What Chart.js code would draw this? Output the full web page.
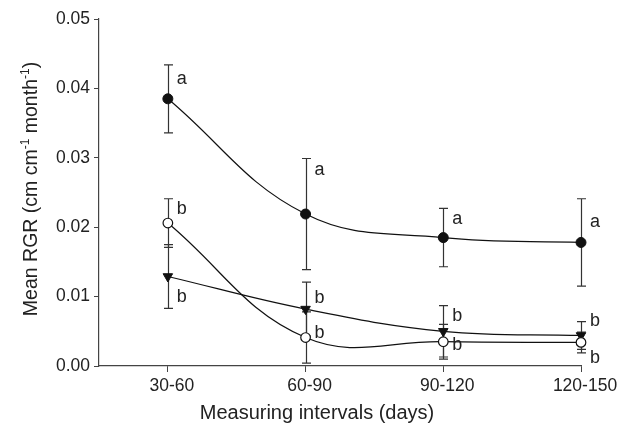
<!DOCTYPE html>
<html>
<head>
<meta charset="utf-8">
<script src="https://cdn.jsdelivr.net/npm/chart.js@4/dist/chart.umd.min.js"></script>
<style>
html,body{margin:0;padding:0;background:#fff;}
#wrap{width:634px;height:429px;position:relative;}
</style>
</head>
<body>
<div id="wrap"><canvas id="c" width="634" height="429"></canvas></div>
<script>
const categories = ['30-60', '60-90', '90-120', '120-150'];
const yTicks = [0, 0.01, 0.02, 0.03, 0.04, 0.05];

const filledMean = [0.0385, 0.0219, 0.0185, 0.0178];
const filledErr  = [0.0049, 0.0080, 0.0042, 0.0063];
const filledLetters = ['a', 'a', 'a', 'a'];
const filledLetterY = [0.0414, 0.0283, 0.0212, 0.0207];

const openMean = [0.0206, 0.0041, 0.0035, 0.0034];
const openErr  = [0.0035, 0.0037, 0.0025, 0.0015];
const openLetters = ['b', 'b', 'b', 'b'];
const openLetterY = [0.0226, 0.0048, 0.0030, 0.0011];

const triMean = [0.0129, 0.0082, 0.0050, 0.0044];
const triErr  = [0.0046, 0.0039, 0.0037, 0.0020];
const triLetters = ['b', 'b', 'b', 'b'];
const triLetterY = [0.0100, 0.0098, 0.0072, 0.0065];

const FONT = '"Liberation Sans", Arial, sans-serif';
const AXIS = '#444';

function pts(arr){ return arr.map((v,i)=>({x:i, y:v})); }

const seriesInfo = [
  {mean: filledMean, err: filledErr, letters: filledLetters, ly: filledLetterY},
  {mean: openMean, err: openErr, letters: openLetters, ly: openLetterY},
  {mean: triMean, err: triErr, letters: triLetters, ly: triLetterY}
];

const errorBars = {
  id: 'errorBars',
  beforeDatasetsDraw(chart){
    const ctx = chart.ctx, xs = chart.scales.x, ys = chart.scales.y;
    ctx.save();
    ctx.strokeStyle = '#333';
    ctx.lineWidth = 1.2;
    seriesInfo.forEach(s=>{
      s.mean.forEach((m,i)=>{
        const x = Math.round(xs.getPixelForValue(i)) + 0.5;
        const t = ys.getPixelForValue(m + s.err[i]);
        const b = ys.getPixelForValue(m - s.err[i]);
        ctx.beginPath();
        ctx.moveTo(x, t); ctx.lineTo(x, b);
        ctx.moveTo(x-4.5, t); ctx.lineTo(x+4.5, t);
        ctx.moveTo(x-4.5, b); ctx.lineTo(x+4.5, b);
        ctx.stroke();
      });
    });
    ctx.restore();
  }
};

const lettersPlugin = {
  id: 'letters',
  afterDatasetsDraw(chart){
    const ctx = chart.ctx, xs = chart.scales.x, ys = chart.scales.y;
    ctx.save();
    ctx.fillStyle = '#222';
    ctx.font = '18px ' + FONT;
    ctx.textAlign = 'left';
    ctx.textBaseline = 'middle';
    seriesInfo.forEach(s=>{
      s.letters.forEach((L,i)=>{
        ctx.fillText(L, xs.getPixelForValue(i) + 9, ys.getPixelForValue(s.ly[i]));
      });
    });
    ctx.restore();
  }
};

const titles = {
  id: 'titles',
  afterDraw(chart){
    const ctx = chart.ctx, ca = chart.chartArea;
    ctx.save();
    ctx.fillStyle = '#222';
    ctx.textBaseline = 'alphabetic';
    // x title
    ctx.font = '20px ' + FONT;
    ctx.textAlign = 'center';
    ctx.fillText('Measuring intervals (days)', 317, 419);
    // y title with superscripts
    const segs = [
      {t:'Mean RGR (cm cm', sup:false},
      {t:'-1', sup:true},
      {t:' month', sup:false},
      {t:'-1', sup:true},
      {t:')', sup:false}
    ];
    const big = '19.5px ' + FONT, small = '12px ' + FONT;
    let total = 0;
    segs.forEach(s=>{ ctx.font = s.sup ? small : big; s.w = ctx.measureText(s.t).width; total += s.w; });
    ctx.translate(37, 189);
    ctx.rotate(-Math.PI/2);
    ctx.textAlign = 'left';
    let x = -total/2;
    segs.forEach(s=>{
      ctx.font = s.sup ? small : big;
      ctx.fillText(s.t, x, s.sup ? -8 : 0);
      x += s.w;
    });
    ctx.restore();
  }
};

new Chart(document.getElementById('c'), {
  type: 'line',
  data: {
    datasets: [
      {data: pts(filledMean), borderColor:'#111', borderWidth:1.2, tension:0.4,
       pointStyle:'circle', pointRadius:5, pointBackgroundColor:'#111', pointBorderColor:'#111', pointBorderWidth:1, clip:false},
      {data: pts(openMean), borderColor:'#111', borderWidth:1.2, tension:0.4,
       pointStyle:'circle', pointRadius:4.8, pointBackgroundColor:'#fff', pointBorderColor:'#111', pointBorderWidth:1.2, clip:false},
      {data: pts(triMean), borderColor:'#111', borderWidth:1.2, tension:0.4,
       pointStyle:'triangle', rotation:180, pointRadius:5.5, pointBackgroundColor:'#111', pointBorderColor:'#111', pointBorderWidth:1, clip:false}
    ]
  },
  options: {
    responsive: false,
    animation: false,
    layout: {padding: {top: 19, right: 53, left: 0, bottom: 0}},
    plugins: {legend: {display:false}, tooltip: {enabled:false}},
    scales: {
      x: {
        type: 'linear', min: -0.5, max: 3,
        afterBuildTicks(scale){ scale.ticks = categories.map((c,i)=>({value:i})); },
        afterFit(scale){ scale.height = 63; },
        ticks: {
          callback: (v)=> categories[v],
          font: {family: FONT, size: 17.5}, color: '#222', padding: 4, maxRotation: 0, autoSkip: false,
          labelOffset: 4
        },
        grid: {display:true, drawOnChartArea:false, drawTicks:true, tickLength:6, color: AXIS},
        border: {display:true, color: AXIS, width: 1.2}
      },
      y: {
        min: 0, max: 0.05,
        afterBuildTicks(scale){ scale.ticks = yTicks.map(v=>({value:v})); },
        afterFit(scale){ scale.width = 99; },
        ticks: {
          callback: (v)=> Number(v).toFixed(2),
          font: {family: FONT, size: 17.5}, color: '#222', padding: 4
        },
        grid: {display:true, drawOnChartArea:false, drawTicks:true, tickLength:5, color: AXIS},
        border: {display:true, color: AXIS, width: 1.2}
      }
    }
  },
  plugins: [errorBars, lettersPlugin, titles]
});
</script>
</body>
</html>
